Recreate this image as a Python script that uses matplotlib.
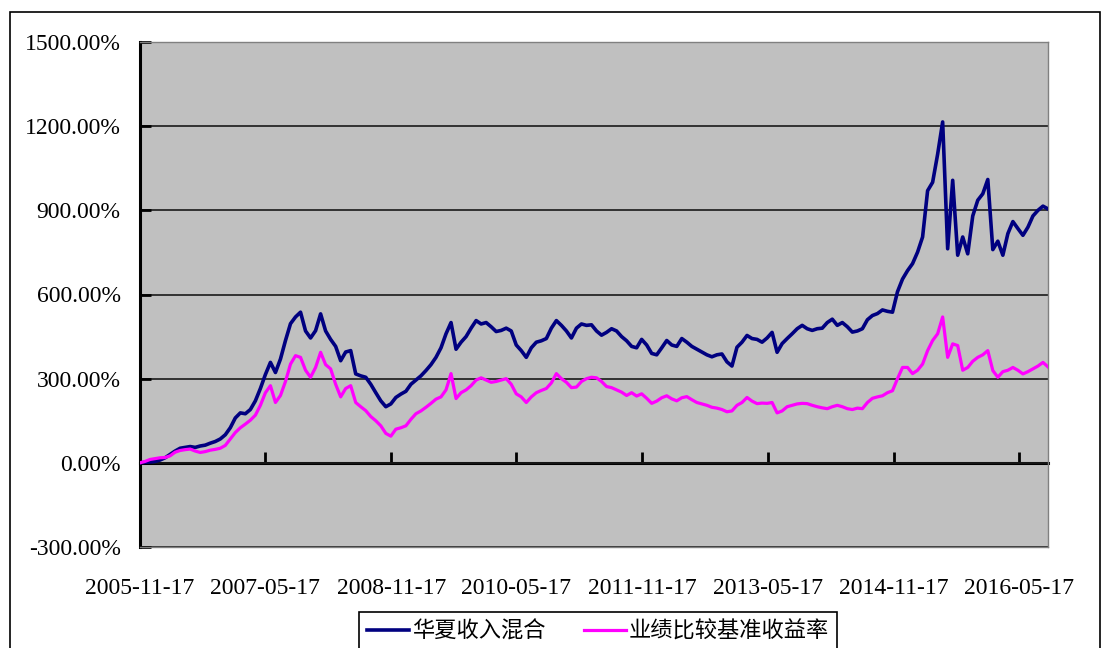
import matplotlib
matplotlib.use('Agg')
import matplotlib.pyplot as plt
from matplotlib.patches import Rectangle
from matplotlib.ticker import FuncFormatter
import pandas as pd

start_date = '2005-11-17'
end_date = '2016-09-20'

fund_returns = [
    0, 2, 3, 5, 10, 18, 30, 42, 52, 55, 58, 55, 60, 63, 70, 76, 85, 100, 125, 160,
    178, 175, 190, 221, 265, 315, 358, 322, 370, 436, 496, 520, 537, 470, 445, 471, 531, 470, 440, 415,
    364, 395, 400, 317, 310, 305, 280, 250, 221, 200, 210, 233, 245, 255, 280, 295, 310, 329, 350, 376,
    410, 460, 500, 405, 430, 450, 480, 507, 495, 500, 485, 468, 472, 480, 470, 420, 400, 376, 410, 430,
    435, 443, 480, 507, 490, 470, 445, 480, 495, 490, 492, 470, 455, 465, 478, 470, 450, 435, 415, 410,
    440, 420, 390, 385, 410, 436, 420, 415, 443, 430, 415, 405, 395, 385, 378, 385, 388, 360, 345, 412,
    430, 454, 443, 440, 430, 445, 465, 394, 425, 443, 460, 478, 490, 478, 472, 478, 480, 500, 512, 490,
    500, 485, 466, 470, 478, 510, 525, 532, 545, 540, 537, 610, 655, 685, 710, 751, 805, 970, 1000, 1100,
    1215, 763, 1007, 740, 805, 745, 880, 936, 959, 1010, 760, 790, 740, 817, 860, 835, 811, 840, 880, 900,
    915, 905,
]

benchmark_returns = [
    0, 5, 12, 15, 18, 19, 25, 38, 44, 47, 49, 42, 37, 40, 45, 48, 52, 62, 85, 108,
    125, 138, 152, 170, 205, 250, 275, 215, 240, 290, 352, 382, 376, 330, 305, 340, 394, 350, 335, 280,
    235, 265, 275, 215, 200, 186, 165, 150, 132, 105, 95, 120, 125, 132, 155, 175, 185, 198, 212, 227,
    235, 260, 318, 229, 250, 260, 275, 295, 303, 295, 287, 290, 295, 300, 280, 246, 235, 215, 235, 250,
    258, 265, 285, 318, 300, 287, 268, 270, 290, 300, 305, 303, 290, 272, 268, 260, 252, 240, 250, 238,
    246, 230, 212, 220, 232, 239, 228, 221, 232, 236, 225, 215, 210, 205, 198, 195, 190, 182, 185, 205,
    215, 233, 220, 211, 213, 212, 215, 178, 185, 200, 205, 210, 212, 211, 205, 200, 196, 193, 200, 205,
    200, 193, 190, 195, 193, 215, 230, 235, 239, 250, 257, 300, 340, 340, 318, 330, 352, 400, 436, 460,
    520, 376, 424, 418, 330, 340, 362, 376, 385, 400, 329, 305, 325, 330, 340, 330, 317, 325, 335, 345,
    358, 342,
]

tick_labels = ['2005-11-17', '2007-05-17', '2008-11-17', '2010-05-17',
               '2011-11-17', '2013-05-17', '2014-11-17', '2016-05-17']
y_ticks = [-300, 0, 300, 600, 900, 1200, 1500]
series_names = ['华夏收入混合', '业绩比较基准收益率']

dates = pd.date_range(start_date, end_date, periods=len(fund_returns))
tick_dates = pd.to_datetime(tick_labels)

plt.rcParams['font.family'] = ['Liberation Serif', 'DejaVu Serif']

fig = plt.figure(figsize=(11.08, 6.48), dpi=100)
ax = fig.add_axes([140 / 1108, 1 - 547 / 648, 908 / 1108, 505 / 648])
ax.set_facecolor('#C0C0C0')

ax.plot(dates, fund_returns, color='#000080', lw=2.6, label=series_names[0], zorder=3)
ax.plot(dates, benchmark_returns, color='#FF00FF', lw=2.3, label=series_names[1], zorder=3)

ax.set_xlim(dates[0], dates[-1])
ax.set_ylim(-300, 1500)
ax.set_yticks(y_ticks)
ax.yaxis.set_major_formatter(FuncFormatter(lambda v, p: '%.2f%%' % v))
ax.set_xticks(tick_dates)
ax.set_xticklabels(tick_labels)

ax.set_axisbelow(True)
ax.yaxis.grid(True, color='#1a1a1a', lw=1.2)
for side in ['top', 'right', 'bottom']:
    ax.spines[side].set_color('#808080')
    ax.spines[side].set_linewidth(1)
ax.spines['left'].set_color('black')
ax.spines['left'].set_linewidth(2.2)

ax.tick_params(axis='y', direction='in', length=8, width=2, pad=14, labelsize=17)
ax.tick_params(axis='x', length=0, pad=22, labelsize=17)

# x axis line sits at 0%
zero_axis = ax.secondary_xaxis(0, transform=ax.transData)
zero_axis.set_xticks(tick_dates)
zero_axis.tick_params(direction='in', length=8, width=2, labelbottom=False)
zero_axis.spines['bottom'].set_linewidth(2.2)
zero_axis.spines['bottom'].set_color('black')

leg = fig.legend(loc='upper center', bbox_to_anchor=(598 / 1108, 1 - 612 / 648), ncol=2,
                 prop={'family': ['Noto Sans CJK SC', 'DejaVu Sans'], 'size': 16},
                 frameon=True, fancybox=False, edgecolor='black', framealpha=1,
                 handlelength=1.9, columnspacing=1.7, borderpad=0.35, handletextpad=0.15,
                 borderaxespad=0)
leg.get_frame().set_linewidth(1.2)

fig.patches.append(Rectangle((10 / 1108, -0.1), 1090 / 1108, 1.1 - 12 / 648,
                             transform=fig.transFigure, fill=False, edgecolor='black', lw=1.2))

fig.savefig('out.png', dpi=100)
